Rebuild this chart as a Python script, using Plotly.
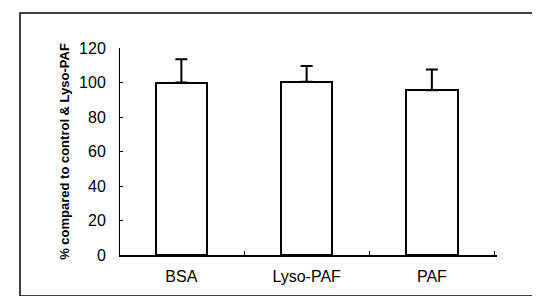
import plotly.graph_objects as go

categories = ["BSA", "Lyso-PAF", "PAF"]
values = [100, 100.5, 95.5]
errors = [13.5, 9, 12]
y_ticks = [0, 20, 40, 60, 80, 100, 120]

fig = go.Figure()
fig.add_trace(go.Bar(
    x=categories, y=values, width=0.41,
    marker=dict(color="white", line=dict(color="black", width=2)),
    error_y=dict(type="data", array=errors, symmetric=False, arrayminus=[0]*3,
                 color="black", thickness=2, width=6),
))

W, H = 540, 296
l, r, t, b = 112, 51, 40, 49
pw, ph = W - l - r, H - t - b

def px2x(px):
    return (px - l) / pw

def py2y(py):
    return (H - b - py) / ph

fig.add_shape(type="rect", xref="paper", yref="paper",
              x0=px2x(12), x1=px2x(537), y0=py2y(288), y1=py2y(5),
              line=dict(color="black", width=1.5), layer="below")

fig.update_layout(
    width=W, height=H,
    margin=dict(l=l, r=r, t=t, b=b),
    paper_bgcolor="white", plot_bgcolor="white",
    showlegend=False,
    font=dict(family="Liberation Sans, Arial", color="black"),
    bargap=0,
)
fig.update_xaxes(
    type="category", range=[-0.49, 2.52],
    showline=True, linecolor="black", linewidth=1.5,
    ticks="inside", tickson="boundaries", ticklen=4, tickcolor="black",
    tickfont=dict(size=16), ticklabelstandoff=6,
    showgrid=False, zeroline=False,
)
fig.update_yaxes(
    range=[0, 120], tickvals=y_ticks,
    showline=True, linecolor="black", linewidth=1,
    ticks="inside", ticklen=3, tickcolor="black",
    tickfont=dict(size=16), ticklabelstandoff=10,
    showgrid=False, zeroline=False,
    title=dict(text="<b>% compared to control & Lyso-PAF</b>", font=dict(size=13), standoff=6),
)

fig.write_html("out.html")
